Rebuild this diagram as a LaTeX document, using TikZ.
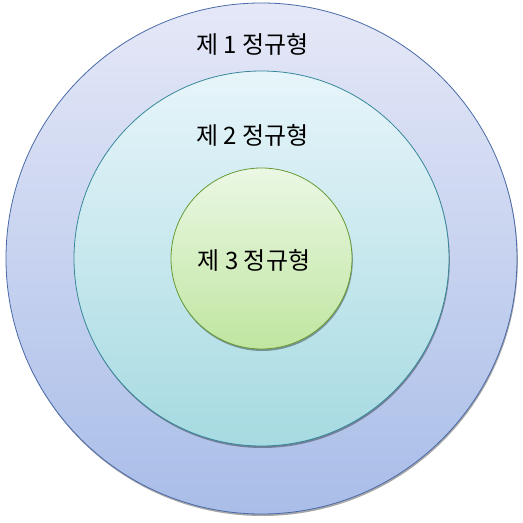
\documentclass[tikz,border=0pt]{standalone}
\usepackage{fontspec}
\usepackage{xcolor}
\newfontfamily\kofont{Noto Sans CJK KR}
\usetikzlibrary{shadows}
\definecolor{ringOneTop}{HTML}{E5E8F7}
\definecolor{ringOneBot}{HTML}{A9BDE8}
\definecolor{ringOneLine}{HTML}{4A6AA8}
\definecolor{ringTwoTop}{HTML}{E7F5FA}
\definecolor{ringTwoBot}{HTML}{A6DAE1}
\definecolor{ringTwoLine}{HTML}{37879A}
\definecolor{ringThreeTop}{HTML}{EBF7E4}
\definecolor{ringThreeBot}{HTML}{BFE6A0}
\definecolor{ringThreeLine}{HTML}{679A35}
\tikzset{
    ring/.style n args={4}{circle, inner sep=0, minimum size=#1, draw=#4, line width=0.8pt,
        top color=#2, bottom color=#3,
        drop shadow={shadow xshift=0.8pt, shadow yshift=-2pt, opacity=0.35, fill=black}},
    nf/.style={font=\kofont\fontsize{24}{28}\selectfont, inner sep=0}
}

\begin{document}
\begin{tikzpicture}[x=1pt,y=1pt]
            \useasboundingbox (0,0) rectangle (523,523);
            \node[ring={511pt}{ringOneTop}{ringOneBot}{ringOneLine}] (outer) at (261.5,264.5) {};
            \node[ring={375pt}{ringTwoTop}{ringTwoBot}{ringTwoLine}] (middle) at (261.5,264.5) {};
            \node[ring={181pt}{ringThreeTop}{ringThreeBot}{ringThreeLine}] (inner) at (261.5,264.5) {};

            \node[nf] (nfOne) at (252.5,479) {제 1 정규형};
            \node[nf] (nfTwo) at (252.5,388) {제 2 정규형};
            \node[nf] (nfThree) at (254,263) {제 3 정규형};
        \end{tikzpicture}
\end{document}
